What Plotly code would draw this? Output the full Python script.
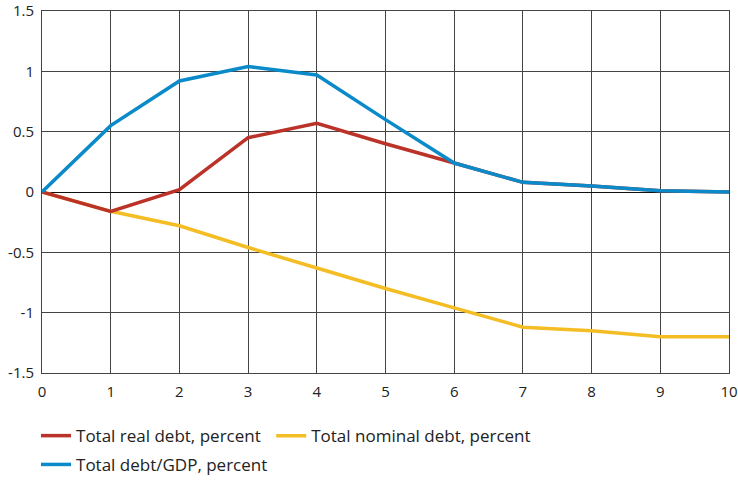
import plotly.graph_objects as go

years = [0, 1, 2, 3, 4, 5, 6, 7, 8, 9, 10]
real_debt = [0, -0.16, 0.02, 0.45, 0.57, 0.40, 0.24, 0.08, 0.05, 0.01, 0.0]
nominal_debt = [0, -0.16, -0.28, -0.46, -0.63, -0.80, -0.96, -1.12, -1.15, -1.20, -1.20]
debt_gdp = [0, 0.55, 0.92, 1.04, 0.97, 0.60, 0.24, 0.08, 0.05, 0.01, 0.0]
y_ticks = [-1.5, -1, -0.5, 0, 0.5, 1, 1.5]
y_tick_labels = ["-1.5", "-1", "-0.5", "0", "0.5", "1", "1.5"]

RED = "#bb3228"
BLUE = "#0a8ac8"
YELLOW = "#f4bd23"
FONT = "Open Sans"

fig = go.Figure()
fig.add_trace(go.Scatter(x=years, y=nominal_debt, mode="lines", name="Total nominal debt, percent",
                         line=dict(color=YELLOW, width=3.5), legend="legend2"))
fig.add_trace(go.Scatter(x=years, y=real_debt, mode="lines", name="Total real debt, percent",
                         line=dict(color=RED, width=3.5), legend="legend"))
fig.add_trace(go.Scatter(x=years, y=debt_gdp, mode="lines", name="Total debt/GDP, percent",
                         line=dict(color=BLUE, width=3.5), legend="legend3"))

legend_font = dict(family=FONT, size=17, color="#222")
common = dict(orientation="h", xanchor="left", yanchor="top", xref="container", yref="container",
              font=legend_font, itemwidth=30, bgcolor="rgba(0,0,0,0)")
fig.update_layout(
    width=738, height=480,
    margin=dict(l=42, r=9, t=11, b=107),
    paper_bgcolor="white", plot_bgcolor="white",
    font=dict(family=FONT, size=15, color="#222"),
    showlegend=True,
    legend=dict(x=0.0488, y=0.129, **common),
    legend2=dict(x=0.3675, y=0.129, **common),
    legend3=dict(x=0.0488, y=0.069, **common),
)
fig.update_xaxes(range=[0, 10], tickmode="array", tickvals=years, ticktext=[str(v) for v in years],
                 showgrid=True, gridcolor="#444", gridwidth=1, zeroline=False, automargin=False,
                 showline=True, linecolor="#444", linewidth=1, mirror=True, ticklabeloverflow="allow",
                 ticks="", ticklabelstandoff=5, tickfont=dict(size=15, color="#222"))
fig.update_yaxes(range=[-1.5, 1.5], tickmode="array", tickvals=y_ticks, ticktext=y_tick_labels,
                 showgrid=True, gridcolor="#444", gridwidth=1, zeroline=True, zerolinecolor="#111",
                 zerolinewidth=1.2, showline=True, linecolor="#444", linewidth=1, mirror=True,
                 automargin=False, ticklabeloverflow="allow", ticks="", ticklabelstandoff=4,
                 tickfont=dict(size=15, color="#222"))

fig.write_html("out.html", config={"displayModeBar": False},
               post_script="document.body.style.margin='0';")
